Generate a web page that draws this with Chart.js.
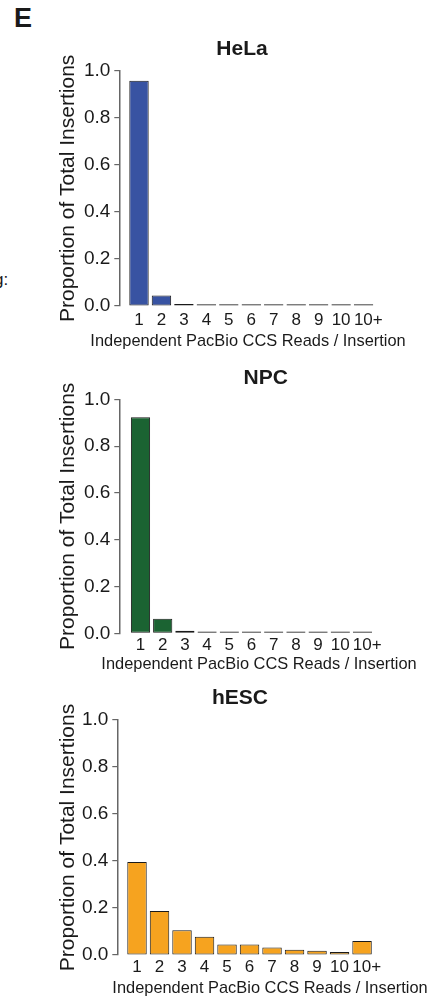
<!DOCTYPE html>
<html>
<head>
<meta charset="utf-8">
<script src="https://cdn.jsdelivr.net/npm/chart.js@4.4.1/dist/chart.umd.min.js"></script>
<style>
    body { margin:0; background:#fff; width:429px; height:999px; position:relative; overflow:hidden; font-family:"Liberation Sans", Arial, sans-serif; }
    .panel { position:absolute; left:0; width:429px; }
    .letra { position:absolute; left:14px; top:5px; font-weight:bold; font-size:27px; line-height:27px; color:#1a1a1a; }
    .resto { position:absolute; left:-6px; top:271px; font-size:17px; line-height:17px; color:#1a1a1a; }
</style>
</head>
<body>
<div class="letra">E</div>
<div class="resto">g:</div>
<div class="panel" style="top:0px;height:360px"><canvas id="graphHela"></canvas></div>
<div class="panel" style="top:360px;height:320px"><canvas id="graphNpc"></canvas></div>
<div class="panel" style="top:680px;height:319px"><canvas id="graphHesc"></canvas></div>
<script>
//Datos
    const categorias = ['1', '2', '3', '4', '5', '6', '7', '8', '9', '10', '10+'];
    const ticksY = [0, 0.2, 0.4, 0.6, 0.8, 1.0];
    const valoresHela = [0.957, 0.045, 0.009, 0.002, 0.002, 0.002, 0.002, 0.002, 0.002, 0.002, 0.002];
    const valoresNpc = [0.923, 0.062, 0.011, 0.004, 0.002, 0.002, 0.002, 0.002, 0.002, 0.002, 0.001];
    const valoresHesc = [0.396, 0.187, 0.105, 0.078, 0.045, 0.045, 0.032, 0.022, 0.018, 0.013, 0.060];

    const tituloEjeX = 'Independent PacBio CCS Reads / Insertion';
    const tituloEjeY = 'Proportion of Total Insertions';
    const fuente = '"Liberation Sans", Arial, sans-serif';

    //Posicion de cada panel (en px de la pagina)
    const paneles = [
        { id: 'graphHela', datos: valoresHela, color: '#3853a2', titulo: 'HeLa',
          top: 0, alto: 360, areaTop: 70.7, areaBottom: 306, ejeX: 119.3, xMin: 0.123, derecha: 374.8,
          padTicks: 4, tituloX: 242, tituloY: 55, ejeXX: 248, ejeXY: 346 },
        { id: 'graphNpc', datos: valoresNpc, color: '#1b6332', titulo: 'NPC',
          top: 360, alto: 320, areaTop: 399.3, areaBottom: 633.3, ejeX: 119.3, xMin: 0.045, derecha: 373.6,
          padTicks: 2, tituloX: 265.7, tituloY: 384, ejeXX: 259, ejeXY: 669 },
        { id: 'graphHesc', datos: valoresHesc, color: '#f6a31f', titulo: 'hESC',
          top: 680, alto: 319, areaTop: 720, areaBottom: 955, ejeX: 117.3, xMin: 0.124, derecha: 373.3,
          padTicks: 2, tituloX: 240, tituloY: 704, ejeXX: 270, ejeXY: 993 }
    ];

    //Plugin para el titulo del panel y el titulo del eje X
    const textosPanel = {
        id: 'textosPanel',
        afterDraw(chart, args, opts) {
            const ctx = chart.ctx;
            ctx.save();
            ctx.fillStyle = '#1a1a1a';
            ctx.textAlign = 'center';
            ctx.textBaseline = 'alphabetic';
            ctx.font = 'bold 21px ' + fuente;
            ctx.fillText(opts.titulo, opts.tituloX, opts.tituloY);
            ctx.font = '16.4px ' + fuente;
            ctx.fillText(tituloEjeX, opts.ejeXX, opts.ejeXY);
            ctx.restore();
        }
    };

    //El "+" queda colgando a la derecha del numero, como en la figura original
    function etiquetaX(v) {
        const t = categorias[Math.round(v) - 1];
        return t.endsWith('+') ? '\u2007' + t : t;
    }

    function crearGrafico(p) {
        const canvas = document.querySelector('#' + p.id);
        const config = {
            type: 'bar',
            data: {
                datasets: [{
                    data: p.datos.map((v, i) => ({ x: i + 1, y: v })),
                    backgroundColor: p.color,
                    borderColor: '#1a1a1a',
                    borderWidth: 1,
                    borderSkipped: false,
                    minBarLength: 1.8,
                    categoryPercentage: 1,
                    barPercentage: 0.865
                }]
            },
            plugins: [textosPanel],
            options: {
                responsive: true,
                maintainAspectRatio: false,
                animation: false,
                devicePixelRatio: 1,
                layout: {
                    padding: { top: p.areaTop - p.top, right: 429 - p.derecha, left: 0, bottom: 0 }
                },
                plugins: {
                    legend: { display: false },
                    tooltip: { enabled: false },
                    textosPanel: {
                        titulo: p.titulo,
                        tituloX: p.tituloX, tituloY: p.tituloY - p.top,
                        ejeXX: p.ejeXX, ejeXY: p.ejeXY - p.top
                    }
                },
                scales: {
                    x: {
                        type: 'linear',
                        offset: false,
                        min: p.xMin,
                        max: 11.5,
                        grid: { display: false, drawTicks: false, offset: false },
                        border: { display: false },
                        afterBuildTicks: scale => {
                            scale.ticks = categorias.map((c, i) => ({ value: i + 1 }));
                        },
                        afterFit: scale => { scale.height = p.top + p.alto - p.areaBottom; },
                        ticks: {
                            autoSkip: false,
                            maxRotation: 0,
                            padding: p.padTicks,
                            color: '#1a1a1a',
                            font: { family: fuente, size: 17 },
                            callback: etiquetaX
                        }
                    },
                    y: {
                        min: 0,
                        max: 1,
                        afterBuildTicks: scale => {
                            scale.ticks = ticksY.map(v => ({ value: v }));
                        },
                        afterFit: scale => { scale.width = p.ejeX; },
                        grid: { drawOnChartArea: false, drawTicks: true, tickLength: 5, color: '#666', lineWidth: 1.2 },
                        border: { display: true, color: '#666', width: 1.5 },
                        ticks: {
                            padding: 4,
                            color: '#1a1a1a',
                            font: { family: fuente, size: 19 },
                            callback: v => v.toFixed(1)
                        },
                        title: {
                            display: true,
                            text: tituloEjeY,
                            color: '#1a1a1a',
                            font: { family: fuente, size: 21 },
                            padding: { top: 55.5, bottom: 0 }
                        }
                    }
                }
            }
        };
        new Chart(canvas, config);
    }

    paneles.forEach(crearGrafico);
</script>
</body>
</html>
